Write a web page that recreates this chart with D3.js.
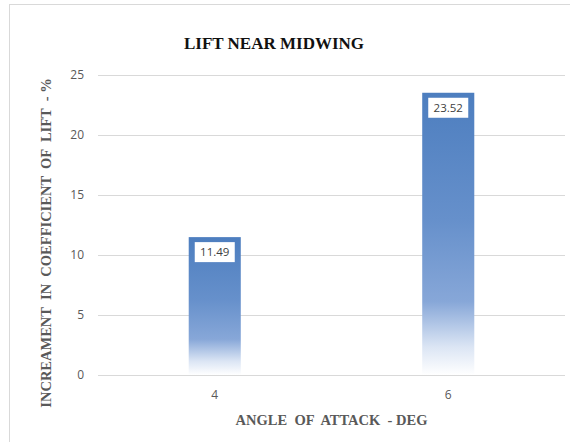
<!DOCTYPE html>
<html>
<head>
<meta charset="utf-8">
<script src="https://cdn.jsdelivr.net/npm/d3@7"></script>
<style>
  html, body { margin: 0; padding: 0; background: #fff; }
  svg { display: block; }
</style>
</head>
<body>
<svg id="chart" width="570" height="442"></svg>
<script>
// Angle of attack (deg) and increase in lift coefficient (%)
const angles = ["4", "6"];
const liftIncrease = [11.49, 23.52];
const yTicks = [0, 5, 10, 15, 20, 25];

const svg = d3.select("#chart");
const W = 570, H = 442;
const margin = { top: 75, right: 5, bottom: 67, left: 98 };
const plotW = W - margin.left - margin.right;
const plotH = H - margin.top - margin.bottom;

// Chart area frame
svg.append("rect")
  .attr("x", 9.5).attr("y", 4.5)
  .attr("width", W + 10).attr("height", H + 10)
  .attr("fill", "#fff").attr("stroke", "#d9d9d9");

const g = svg.append("g").attr("transform", `translate(${margin.left},${margin.top})`);

const x = d3.scaleBand().domain(angles).range([0, plotW])
  .paddingInner(0.777).paddingOuter(0.3885);
const y = d3.scaleLinear().domain([0, 25]).range([plotH, 0]);

// Bar fill: blue at the top fading to white at the base
const defs = svg.append("defs");
const grad = defs.append("linearGradient")
  .attr("id", "barFade").attr("x1", 0).attr("y1", 0).attr("x2", 0).attr("y2", 1);
grad.append("stop").attr("offset", "0%").attr("stop-color", "#4d7ebf");
grad.append("stop").attr("offset", "45%").attr("stop-color", "#6690cb");
grad.append("stop").attr("offset", "74%").attr("stop-color", "#87a7d8");
grad.append("stop").attr("offset", "90%").attr("stop-color", "#dbe5f4");
grad.append("stop").attr("offset", "100%").attr("stop-color", "#ffffff");

// Gridlines and y tick labels
const yAxis = d3.axisLeft(y).tickValues(yTicks).tickSize(-plotW).tickPadding(14);
const ya = g.append("g").call(yAxis);
ya.select(".domain").remove();
ya.selectAll(".tick line").attr("stroke", "#d9d9d9").attr("stroke-width", 1);
ya.selectAll(".tick text")
  .attr("fill", "#595959")
  .attr("font-family", "'Open Sans', 'Liberation Sans', sans-serif")
  .attr("font-size", 12);

// Bars
g.selectAll("rect.bar").data(angles).join("rect")
  .attr("class", "bar")
  .attr("x", d => x(d))
  .attr("width", x.bandwidth())
  .attr("y", (d, i) => y(liftIncrease[i]))
  .attr("height", (d, i) => plotH - y(liftIncrease[i]))
  .attr("fill", "url(#barFade)");

// Value labels in white boxes near each bar top
const lbl = g.selectAll("g.lbl").data(angles).join("g")
  .attr("class", "lbl")
  .attr("transform", (d, i) => `translate(${x(d) + x.bandwidth() / 2},${y(liftIncrease[i]) + 15})`);
lbl.append("rect")
  .attr("x", -20).attr("y", -10).attr("width", 40).attr("height", 20)
  .attr("fill", "#fff");
lbl.append("text")
  .attr("text-anchor", "middle").attr("dy", "0.36em")
  .attr("fill", "#404040")
  .attr("font-family", "'Open Sans', 'Liberation Sans', sans-serif")
  .attr("font-size", 11.5)
  .text((d, i) => liftIncrease[i].toFixed(2));

// X axis labels
const xAxis = d3.axisBottom(x).tickSize(0).tickPadding(15);
const xa = g.append("g").attr("transform", `translate(0,${plotH})`).call(xAxis);
xa.select(".domain").remove();
xa.selectAll(".tick text")
  .attr("fill", "#595959")
  .attr("font-family", "'Open Sans', 'Liberation Sans', sans-serif")
  .attr("font-size", 12);

// Titles
svg.append("text")
  .attr("x", 274).attr("y", 49)
  .attr("text-anchor", "middle")
  .attr("font-family", "'Liberation Serif', 'Times New Roman', serif")
  .attr("font-weight", "bold").attr("font-size", 17)
  .attr("fill", "#111")
  .text("LIFT NEAR MIDWING");

svg.append("text")
  .attr("x", margin.left + plotW / 2).attr("y", 425)
  .attr("text-anchor", "middle")
  .attr("font-family", "'Liberation Serif', 'Times New Roman', serif")
  .attr("font-weight", "bold").attr("font-size", 14.5)
  .attr("fill", "#595959")
  .attr("xml:space", "preserve")
  .text("ANGLE  OF  ATTACK  - DEG");

svg.append("text")
  .attr("transform", "translate(51,243) rotate(-90)")
  .attr("text-anchor", "middle")
  .attr("font-family", "'Liberation Serif', 'Times New Roman', serif")
  .attr("font-weight", "bold").attr("font-size", 14.5)
  .attr("fill", "#595959")
  .attr("xml:space", "preserve")
  .text("INCREAMENT  IN  COEFFICIENT  OF  LIFT  - %");
</script>
</body>
</html>
